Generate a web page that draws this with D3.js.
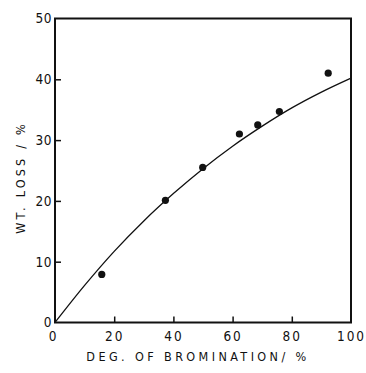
<!DOCTYPE html>
<html>
<head>
<meta charset="utf-8">
<script src="https://cdn.jsdelivr.net/npm/d3@7"></script>
<style>
  body { margin: 0; background: #fff; }
  text { font-family: "DejaVu Sans Condensed", "DejaVu Sans", sans-serif; fill: #111; }
</style>
</head>
<body>
<div id="chart"></div>
<script>
// measured points (degree of bromination %, weight loss %)
const bromination = [15.8, 37.3, 49.9, 62.3, 68.5, 75.8, 92.3];
const wtLoss = [7.9, 20.1, 25.5, 31.0, 32.5, 34.7, 41.0];

// fitted curve
const curveX = [0, 10, 20, 30, 40, 50, 60, 70, 80, 90, 100];
const curveY = [0, 6.1, 11.7, 16.7, 21.2, 25.3, 29.0, 32.3, 35.3, 37.9, 40.2];

const xTicks = [0, 20, 40, 60, 80, 100];
const yTicks = [0, 10, 20, 30, 40, 50];

const margin = {top: 18.5, right: 15, bottom: 50.5, left: 55};
const width = 366 - margin.left - margin.right;
const height = 373 - margin.top - margin.bottom;

const svg = d3.select('#chart')
  .append('svg')
  .attr('width', 366)
  .attr('height', 373)
  .append('g')
  .attr('transform', 'translate(' + margin.left + ',' + margin.top + ')');

const x = d3.scaleLinear().domain([0, 100]).range([0, width]);
const y = d3.scaleLinear().domain([0, 50]).range([height, 0]);

// frame
svg.append('rect')
  .attr('width', width)
  .attr('height', height)
  .attr('fill', 'none')
  .attr('stroke', '#111')
  .attr('stroke-width', 2);

// x axis: inward ticks
const xAxis = svg.append('g')
  .attr('transform', 'translate(0,' + height + ')')
  .call(d3.axisBottom(x).tickValues(xTicks).tickSizeInner(-6).tickSizeOuter(0).tickPadding(9));
xAxis.select('.domain').remove();
xAxis.selectAll('line').attr('stroke', '#111').attr('stroke-width', 1.5)
  .filter(d => d === 0 || d === 100).remove();
xAxis.selectAll('text')
  .attr('font-size', 13.5)
  .attr('letter-spacing', 2)
  .attr('dx', d => d === 0 ? -2 : 0);

// y axis: inward ticks
const yAxis = svg.append('g')
  .call(d3.axisLeft(y).tickValues(yTicks).tickSizeInner(-6).tickSizeOuter(0).tickPadding(3));
yAxis.select('.domain').remove();
yAxis.selectAll('line').attr('stroke', '#111').attr('stroke-width', 1.5)
  .filter(d => d === 0 || d === 50).remove();
yAxis.selectAll('text')
  .attr('font-size', 13.5)
  .attr('letter-spacing', 0.5);

// curve
const line = d3.line()
  .curve(d3.curveMonotoneX)
  .x((d, i) => x(curveX[i]))
  .y(d => y(d));

svg.append('path')
  .datum(curveY)
  .attr('fill', 'none')
  .attr('stroke', '#111')
  .attr('stroke-width', 1.3)
  .attr('d', line);

// points
svg.selectAll('.pt')
  .data(bromination)
  .enter()
  .append('circle')
  .attr('class', 'pt')
  .attr('cx', d => x(d))
  .attr('cy', (d, i) => y(wtLoss[i]))
  .attr('r', 3.6)
  .attr('fill', '#111');

// axis titles
svg.append('text')
  .attr('x', width / 2 - 5)
  .attr('y', height + 38)
  .attr('text-anchor', 'middle')
  .attr('font-size', 12.5)
  .attr('letter-spacing', 3.4)
  .text('DEG. OF BROMINATION/ %');

svg.append('text')
  .attr('transform', 'translate(-30,' + (height / 2 + 7) + ') rotate(-90)')
  .attr('text-anchor', 'middle')
  .attr('font-size', 12.5)
  .attr('letter-spacing', 3.2)
  .text('WT. LOSS / %');
</script>
</body>
</html>
